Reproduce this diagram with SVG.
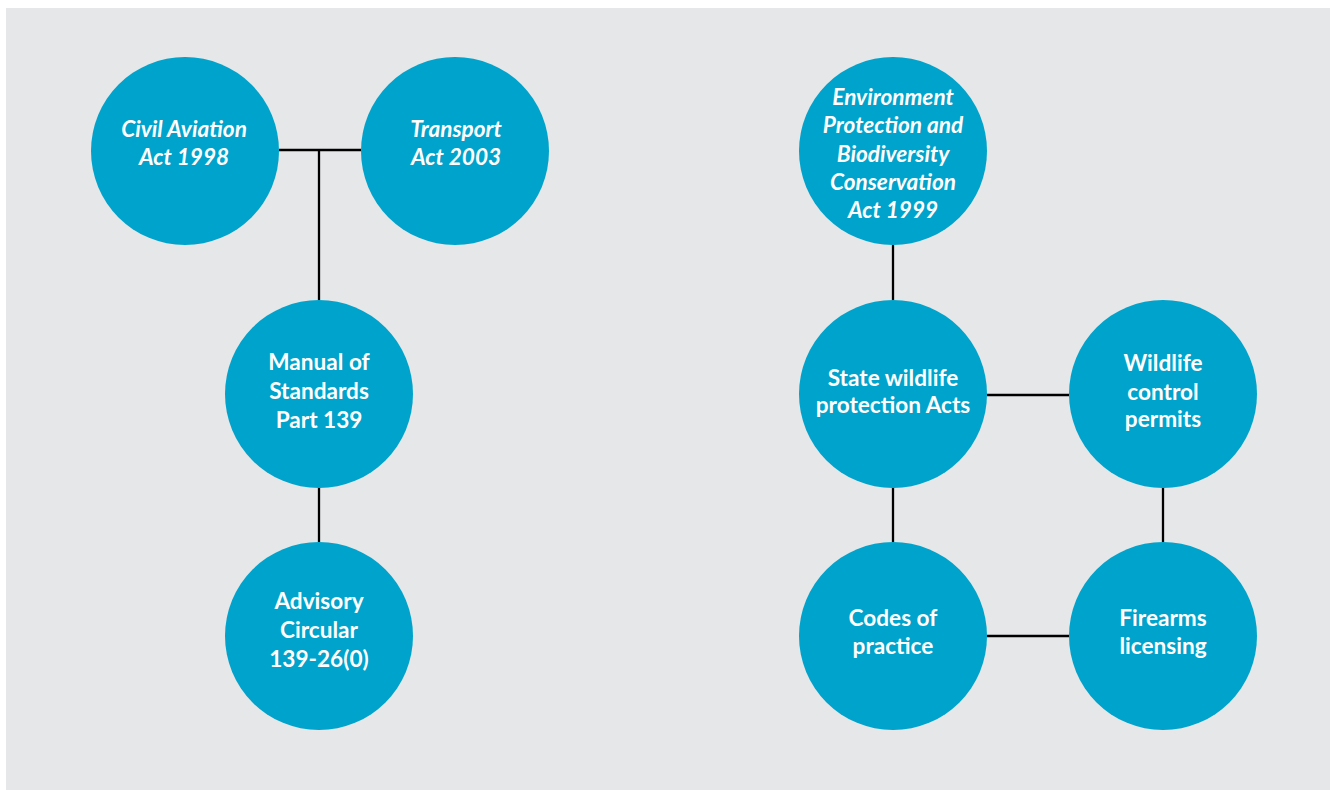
<svg xmlns="http://www.w3.org/2000/svg" width="1330" height="790" viewBox="0 0 1330 790">
  <style>
    .panel { fill: #e6e7e8; }
    .node { fill: #00a3cb; }
    .link { stroke: #000000; stroke-width: 2.3; fill: none; }
    .label { fill: #ffffff; font-family: Lato, "Open Sans", "Liberation Sans", sans-serif; font-weight: bold; font-size: 22.6px; text-anchor: middle; }
    .act { font-style: italic; }
  </style>
  <rect width="1330" height="790" fill="#ffffff"/>
  <rect class="panel" x="6" y="8" width="1324" height="782"/>

  <!-- connectors -->
  <g id="connectors">
    <line class="link" x1="279" y1="150" x2="361" y2="150"/>
    <line class="link" x1="319" y1="150" x2="319" y2="300"/>
    <line class="link" x1="319" y1="487" x2="319" y2="542"/>
    <line class="link" x1="893" y1="245" x2="893" y2="300"/>
    <line class="link" x1="987" y1="395" x2="1069" y2="395"/>
    <line class="link" x1="893" y1="487" x2="893" y2="542"/>
    <line class="link" x1="1163" y1="487" x2="1163" y2="542"/>
    <line class="link" x1="987" y1="636" x2="1069" y2="636"/>
  </g>

  <!-- left group -->
  <g id="civil-aviation-act">
    <circle class="node" cx="185" cy="151" r="94"/>
    <text class="label act" x="184"><tspan x="184" y="137">Civil Aviation</tspan><tspan x="184" y="165">Act 1998</tspan></text>
  </g>
  <g id="transport-act">
    <circle class="node" cx="455" cy="151" r="94"/>
    <text class="label act" x="456"><tspan x="456" y="137">Transport</tspan><tspan x="456" y="165">Act 2003</tspan></text>
  </g>
  <g id="manual-of-standards">
    <circle class="node" cx="319" cy="394" r="94"/>
    <text class="label" x="319"><tspan x="319" y="370">Manual of</tspan><tspan x="319" y="399">Standards</tspan><tspan x="319" y="428">Part 139</tspan></text>
  </g>
  <g id="advisory-circular">
    <circle class="node" cx="319" cy="636" r="94"/>
    <text class="label" x="319"><tspan x="319" y="609">Advisory</tspan><tspan x="319" y="638">Circular</tspan><tspan x="319" y="667">139-26(0)</tspan></text>
  </g>

  <!-- right group -->
  <g id="epbc-act">
    <circle class="node" cx="893" cy="151" r="94"/>
    <text class="label act" x="893"><tspan x="893" y="105">Environment</tspan><tspan x="893" y="133">Protection and</tspan><tspan x="893" y="162">Biodiversity</tspan><tspan x="893" y="190">Conservation</tspan><tspan x="893" y="218">Act 1999</tspan></text>
  </g>
  <g id="state-wildlife-acts">
    <circle class="node" cx="893" cy="394" r="94"/>
    <text class="label" x="893"><tspan x="893" y="386">State wildlife</tspan><tspan x="893" y="413">protection Acts</tspan></text>
  </g>
  <g id="wildlife-control-permits">
    <circle class="node" cx="1163" cy="394" r="94"/>
    <text class="label" x="1163"><tspan x="1163" y="371">Wildlife</tspan><tspan x="1163" y="400">control</tspan><tspan x="1163" y="427">permits</tspan></text>
  </g>
  <g id="codes-of-practice">
    <circle class="node" cx="893" cy="636" r="94"/>
    <text class="label" x="893"><tspan x="893" y="626">Codes of</tspan><tspan x="893" y="654">practice</tspan></text>
  </g>
  <g id="firearms-licensing">
    <circle class="node" cx="1163" cy="636" r="94"/>
    <text class="label" x="1163"><tspan x="1163" y="626">Firearms</tspan><tspan x="1163" y="654">licensing</tspan></text>
  </g>
</svg>
